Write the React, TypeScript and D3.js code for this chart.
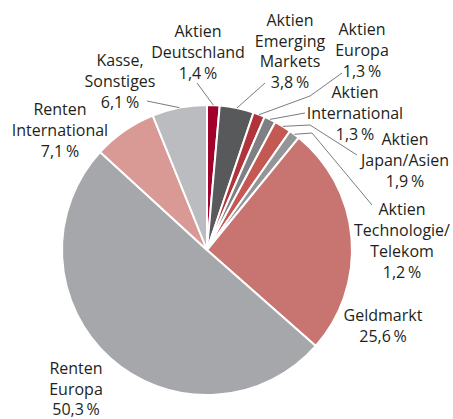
import React from "react";
import * as d3 from "d3";

const categories: string[][] = [
  ["Aktien", "Deutschland"],
  ["Aktien", "Emerging", "Markets"],
  ["Aktien", "Europa"],
  ["Aktien", "International"],
  ["Aktien", "Japan/Asien"],
  ["Aktien", "Technologie/", "Telekom"],
  ["Geldmarkt"],
  ["Renten", "Europa"],
  ["Renten", "International"],
  ["Kasse,", "Sonstiges"],
];
const values: number[] = [1.4, 3.8, 1.3, 1.3, 1.9, 1.2, 25.6, 50.3, 7.1, 6.1];
const valueLabels: string[] = ["1,4", "3,8", "1,3", "1,3", "1,9", "1,2", "25,6", "50,3", "7,1", "6,1"];

const colors = ["#a1002b", "#58595b", "#b0343b", "#7f8083", "#c45852", "#949598", "#c87571", "#a6a7aa", "#d99a95", "#bbbcbf"];

// layout: label centre x, first baseline y, line height, leader bend points (label side)
const labelLayout: { x: number; y: number; lh: number; leader: [number, number][] | null }[] = [
  { x: 198, y: 37, lh: 21, leader: [[197, 83]] },
  { x: 290, y: 26, lh: 20.7, leader: [[265, 83]] },
  { x: 362, y: 35, lh: 21, leader: [[310, 96], [342, 73]] },
  { x: 355, y: 98, lh: 21, leader: [[305, 113]] },
  { x: 405, y: 145, lh: 21, leader: [[310, 125], [357, 155]] },
  { x: 402, y: 215, lh: 21, leader: [[312, 133], [372, 205]] },
  { x: 383, y: 321, lh: 21, leader: null },
  { x: 76, y: 374, lh: 20.5, leader: null },
  { x: 60, y: 115, lh: 21, leader: null },
  { x: 120, y: 66, lh: 21, leader: [[147, 101]] },
];

const W = 453, H = 419;
const cx = 207, cy = 250, R = 145;

export default function App() {
  const pie = d3.pie<number>().sort(null).value((d) => d).startAngle(0).endAngle(2 * Math.PI);
  const arcs = pie(values);
  const arc = d3.arc<d3.PieArcDatum<number>>().innerRadius(0).outerRadius(R);
  const line = d3.line();

  return (
    <svg width={W} height={H} style={{ position: "absolute", left: 0, top: 0 }} fontFamily="'Open Sans', sans-serif">
      <g transform={`translate(${cx},${cy})`}>
        {arcs.map((a, i) => (
          <path key={i} d={arc(a) || ""} fill={colors[i]} stroke="#fff" strokeWidth={2} strokeLinejoin="round" />
        ))}
      </g>
      {arcs.map((a, i) => {
        const L = labelLayout[i];
        if (!L.leader) return null;
        const mid = (a.startAngle + a.endAngle) / 2;
        const p: [number, number] = [cx + R * Math.sin(mid), cy - R * Math.cos(mid)];
        const pts: [number, number][] = [p, ...L.leader];
        return <path key={"l" + i} d={line(pts) || ""} fill="none" stroke="#58595b" strokeWidth={0.8} />;
      })}
      {categories.map((c, i) => {
        const L = labelLayout[i];
        const lines = [...c, valueLabels[i] + "\u2009%"];
        return (
          <text key={"t" + i} x={L.x} y={L.y} fontSize={16} fill="#231f20" textAnchor="middle">
            {lines.map((s, j) => (
              <tspan key={j} x={L.x} y={L.y + j * L.lh}>{s}</tspan>
            ))}
          </text>
        );
      })}
    </svg>
  );
}
